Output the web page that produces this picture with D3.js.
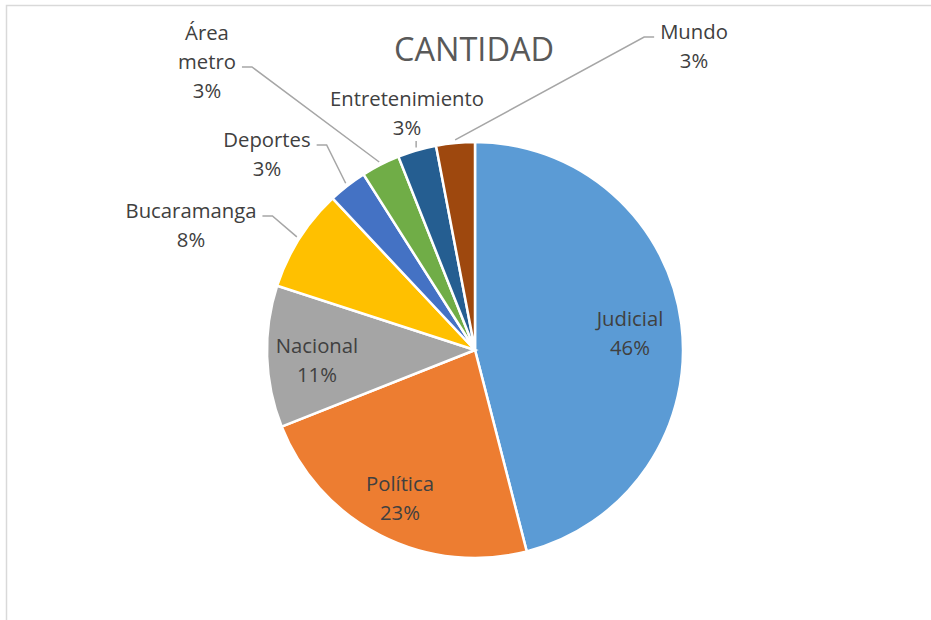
<!DOCTYPE html>
<html>
<head>
<meta charset="utf-8">
<script src="https://cdn.jsdelivr.net/npm/d3@7"></script>
<style>
  body { margin: 0; background: #fff; }
  svg text { font-family: "Open Sans", sans-serif; }
</style>
</head>
<body>
<div id="chart"></div>
<script>
// data
const categories = ['Judicial', 'Política', 'Nacional', 'Bucaramanga', 'Deportes', 'Área metro', 'Entretenimiento', 'Mundo'];
const shares = [46, 23, 11, 8, 3, 3, 3, 3];
const colors = ['#5B9BD5', '#ED7D31', '#A5A5A5', '#FFC000', '#4472C4', '#70AD47', '#255E91', '#9E480E'];
const title = 'CANTIDAD';

// label layout (center x, first baseline) for each slice
const labelPos = {
  'Judicial':        { x: 630, y: 326, inside: true },
  'Política':        { x: 400, y: 491, inside: true },
  'Nacional':        { x: 317, y: 353, inside: true },
  'Bucaramanga':     { x: 191, y: 218, side: 'left' },
  'Deportes':        { x: 267, y: 147, side: 'left' },
  'Área metro':      { x: 207, y: 40, side: 'left', lines: ['Área', 'metro'] },
  'Entretenimiento': { x: 407, y: 106, side: 'below' },
  'Mundo':           { x: 694, y: 39, side: 'right' }
};

const width = 931;
const height = 620;
const cx = 475, cy = 350, radius = 208;
const lineH = 29;

const svg = d3.select('#chart')
  .append('svg')
  .attr('width', width)
  .attr('height', height);

// chart border (only top and left visible)
svg.append('rect')
  .attr('x', 6.5)
  .attr('y', 5.5)
  .attr('width', 1200)
  .attr('height', 1200)
  .attr('fill', 'none')
  .attr('stroke', '#d9d9d9')
  .attr('stroke-width', 1.5);

svg.append('text')
  .attr('x', cx - 1)
  .attr('y', 61)
  .attr('text-anchor', 'middle')
  .attr('fill', '#595959')
  .style('font-size', '32.5px')
  .text(title);

const pie = d3.pie().sort(null).value(d => d.value);
const data_ready = pie(categories.map((c, i) => ({ name: c, value: shares[i], color: colors[i] })));

const arc = d3.arc().innerRadius(0).outerRadius(radius);
const edge = d3.arc().innerRadius(radius + 3).outerRadius(radius + 3);

const g = svg.append('g')
  .attr('transform', `translate(${cx}, ${cy})`);

g.selectAll('path')
  .data(data_ready)
  .enter()
  .append('path')
  .attr('d', arc)
  .attr('fill', d => d.data.color)
  .attr('stroke', 'white')
  .style('stroke-width', '2.5px');

// data labels
const total = d3.sum(shares);
const labels = svg.append('g');
const leaders = svg.append('g');

data_ready.forEach(d => {
  const pos = labelPos[d.data.name];
  const lines = (pos.lines || [d.data.name]).concat([Math.round(d.data.value / total * 100) + '%']);
  const t = labels.append('text')
    .attr('text-anchor', 'middle')
    .attr('fill', '#404040')
    .style('font-size', '20.3px');
  lines.forEach((s, i) => {
    t.append('tspan')
      .attr('x', pos.x)
      .attr('y', pos.y + i * lineH)
      .text(s);
  });
  if (pos.inside) return;

  const p = edge.centroid(d);
  const end = [cx + p[0], cy + p[1]];
  const firstW = lineW(t, 0);
  let pts;
  if (pos.side === 'left') {
    const ly = pos.y + (lines.length - 2) * lineH - 2;
    const lx = pos.x + lineW(t, lines.length - 2) / 2 + 6;
    pts = [[lx, ly], [lx + 10, ly], end];
  } else if (pos.side === 'right') {
    const lx = pos.x - firstW / 2 - 6;
    pts = [[lx, pos.y - 2], [lx - 10, pos.y - 2], end];
  } else {
    pts = [[end[0], pos.y + lineH + 6], end];
  }
  leaders.append('path')
    .attr('d', d3.line()(pts))
    .attr('fill', 'none')
    .attr('stroke', '#a6a6a6')
    .attr('stroke-width', 1.5);
});

function lineW(t, i) {
  return t.selectAll('tspan').nodes()[i].getComputedTextLength();
}
</script>
</body>
</html>
